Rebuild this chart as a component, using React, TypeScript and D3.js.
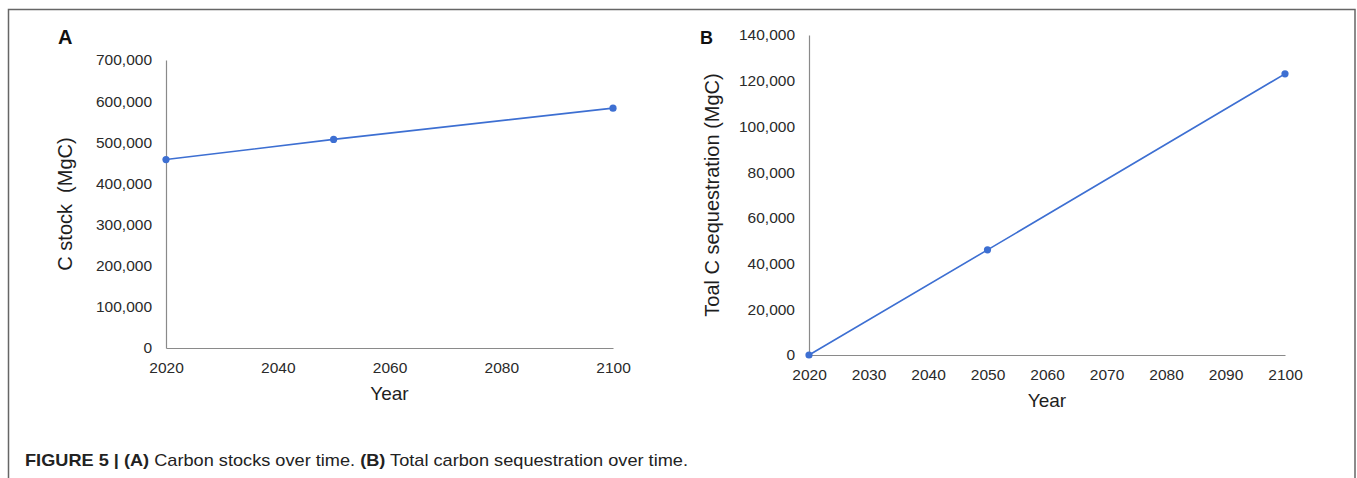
import React, { useEffect, useRef } from 'react';
import * as d3 from 'd3';

// values
const years = [2020, 2050, 2100];
const carbonStock = [458000, 507000, 583000];
const totalSequestration = [0, 46000, 123000];

const stockYearTicks = [2020, 2040, 2060, 2080, 2100];
const stockValueTicks = [0, 100000, 200000, 300000, 400000, 500000, 600000, 700000];
const seqYearTicks = [2020, 2030, 2040, 2050, 2060, 2070, 2080, 2090, 2100];
const seqValueTicks = [0, 20000, 40000, 60000, 80000, 100000, 120000, 140000];

const FONT = '"Liberation Sans", Arial, Helvetica, sans-serif';
const LINE_COLOR = '#3d6fd2';
const fmt = d3.format(',');

type PanelProps = {
  letter: string;
  letterX: number;
  letterSize: number;
  values: number[];
  xTicks: number[];
  yTicks: number[];
  yMax: number;
  x0: number;
  x1: number;
  yTop: number;
  yBottom: number;
  yTitle: string;
  yTitleX: number;
  yearY: number;
};

const Panel = (p: PanelProps) => {
  const ref = useRef<SVGGElement>(null);

  useEffect(() => {
    if (!ref.current) return;
    const g = d3.select(ref.current);
    g.selectAll('*').remove();

    const x = d3.scaleLinear().domain([2020, 2100]).range([p.x0, p.x1]);
    const y = d3.scaleLinear().domain([0, p.yMax]).range([p.yBottom, p.yTop]);

    const xAxis = g
      .append('g')
      .attr('transform', `translate(0, ${p.yBottom})`)
      .call(d3.axisBottom(x).tickValues(p.xTicks).tickSize(0).tickPadding(14).tickFormat(d3.format('d')));
    const yAxis = g
      .append('g')
      .attr('transform', `translate(${p.x0}, 0)`)
      .call(d3.axisLeft(y).tickValues(p.yTicks).tickSize(0).tickPadding(14).tickFormat((d) => fmt(d as number)));

    [xAxis, yAxis].forEach((a) => {
      a.select('.domain').attr('stroke', '#8a8a8a').attr('stroke-width', 1.2);
      a.selectAll('text').attr('font-family', FONT).attr('font-size', 15.5).attr('fill', '#2a2a2a');
    });

    const pts = years.map((yr, i) => [yr, p.values[i]] as [number, number]);
    const line = d3
      .line<[number, number]>()
      .x((d) => x(d[0]))
      .y((d) => y(d[1]));

    g.append('path')
      .datum(pts)
      .attr('fill', 'none')
      .attr('stroke', LINE_COLOR)
      .attr('stroke-width', 1.6)
      .attr('d', line);

    g.selectAll('circle.pt')
      .data(pts)
      .join('circle')
      .attr('class', 'pt')
      .attr('cx', (d) => x(d[0]))
      .attr('cy', (d) => y(d[1]))
      .attr('r', 3.6)
      .attr('fill', LINE_COLOR);

    g.append('text')
      .attr('x', (p.x0 + p.x1) / 2)
      .attr('y', p.yearY)
      .attr('text-anchor', 'middle')
      .attr('font-family', FONT)
      .attr('font-size', 19)
      .attr('fill', '#1e1e1e')
      .text('Year');

    g.append('text')
      .attr('transform', `translate(${p.yTitleX}, ${(p.yTop + p.yBottom) / 2}) rotate(-90)`)
      .attr('text-anchor', 'middle')
      .attr('font-family', FONT)
      .attr('font-size', 20)
      .attr('fill', '#1e1e1e')
      .style('white-space', 'pre')
      .text(p.yTitle);

    g.append('text')
      .attr('x', p.letterX)
      .attr('y', 44)
      .attr('font-family', FONT)
      .attr('font-weight', 'bold')
      .attr('font-size', p.letterSize)
      .attr('fill', '#111')
      .text(p.letter);
  }, [p]);

  return <g ref={ref} />;
};

export default function App() {
  return (
    <svg
      width={1357}
      height={478}
      style={{ position: 'absolute', left: 0, top: 0, background: '#fff' }}
    >
      <rect width={1357} height={478} fill="#fff" />
      <path d="M8.5,478 V9.5 H1355 V478" fill="none" stroke="#666" strokeWidth={1.5} />
      <Panel
        letter="A"
        letterX={58}
        letterSize={20}
        values={carbonStock}
        xTicks={stockYearTicks}
        yTicks={stockValueTicks}
        yMax={700000}
        x0={166}
        x1={613}
        yTop={60}
        yBottom={348}
        yTitle="C stock  (MgC)"
        yTitleX={72}
        yearY={400}
      />
      <Panel
        letter="B"
        letterX={700}
        letterSize={18}
        values={totalSequestration}
        xTicks={seqYearTicks}
        yTicks={seqValueTicks}
        yMax={140000}
        x0={809}
        x1={1285}
        yTop={35}
        yBottom={355}
        yTitle="Toal C sequestration (MgC)"
        yTitleX={719}
        yearY={407}
      />
      <text
        x={25}
        y={466}
        fontFamily={FONT}
        fontSize={17}
        fill="#222"
        textLength={663}
        lengthAdjust="spacingAndGlyphs"
      >
        <tspan fontWeight="bold">FIGURE 5 | (A)</tspan>
        <tspan> Carbon stocks over time. </tspan>
        <tspan fontWeight="bold">(B)</tspan>
        <tspan> Total carbon sequestration over time.</tspan>
      </text>
    </svg>
  );
}
